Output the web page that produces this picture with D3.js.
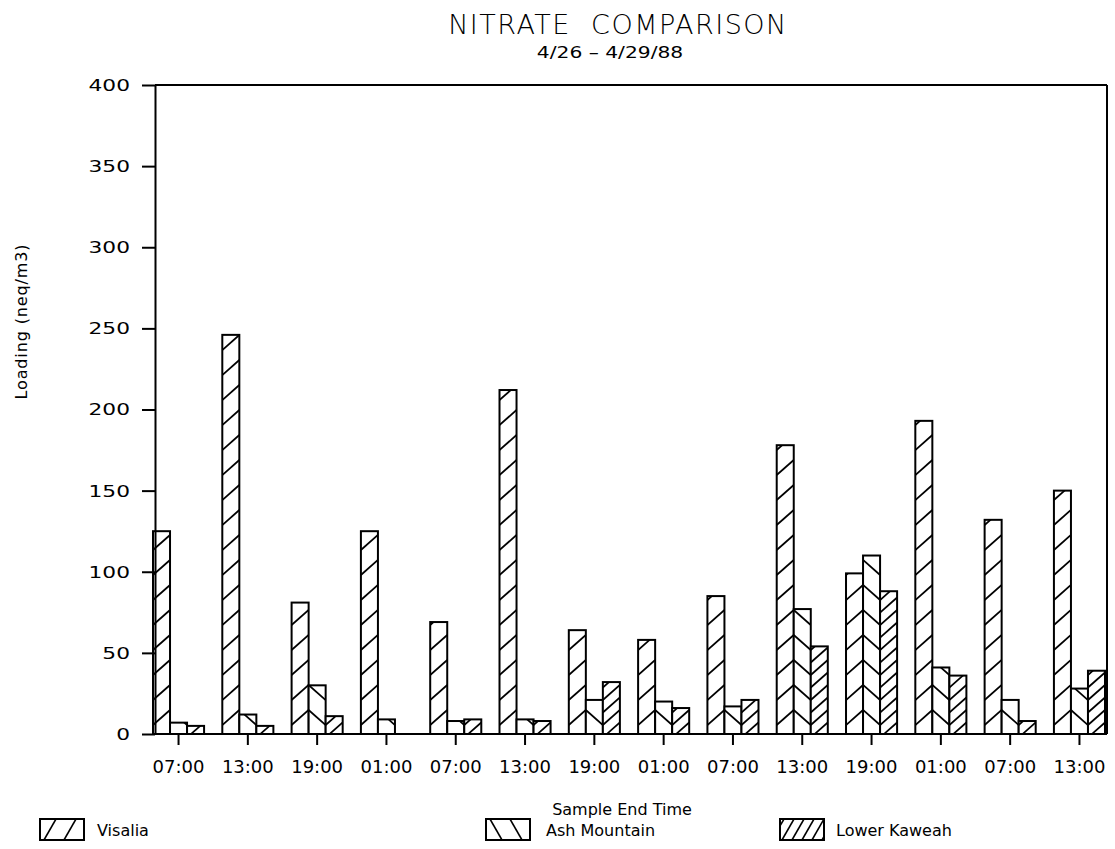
<!DOCTYPE html>
<html>
<head>
<meta charset="utf-8">
<script src="https://cdn.jsdelivr.net/npm/d3@7/dist/d3.min.js"></script>
<style>
  html, body { margin: 0; padding: 0; background: #fff; }
  svg { display: block; }
  text { font-family: "DejaVu Sans", sans-serif; fill: #000; }
</style>
</head>
<body>
<svg id="chart" width="1115" height="849"></svg>
<script>
// ---- data ----
const categories = ["07:00","13:00","19:00","01:00","07:00","13:00","19:00","01:00","07:00","13:00","19:00","01:00","07:00","13:00"];
const seriesNames = ["Visalia", "Ash Mountain", "Lower Kaweah"];
const visalia = [125, 246, 81, 125, 69, 212, 64, 58, 85, 178, 99, 193, 132, 150];
const ashMountain = [7, 12, 30, 9, 8, 9, 21, 20, 17, 77, 110, 41, 21, 28];
const lowerKaweah = [5, 5, 11, 0, 9, 8, 32, 16, 21, 54, 88, 36, 8, 39];
const yTicks = [0, 50, 100, 150, 200, 250, 300, 350, 400];

const title = "NITRATE  COMPARISON";
const subtitle = "4/26 \u2013 4/29/88";
const xLabel = "Sample End Time";
const yLabel = "Loading (neq/m3)";

// ---- layout ----
const svg = d3.select("#chart");
const plotLeft = 155, plotRight = 1107, plotTop = 85, plotBottom = 734;

const x = d3.scaleBand()
  .domain(d3.range(categories.length))
  .range([153, 1105])
  .paddingInner(0.263)
  .paddingOuter(0);
const xs = d3.scaleBand().domain([0, 1, 2]).range([0, x.bandwidth()]);
const y = d3.scaleLinear().domain([0, 400]).range([plotBottom, plotTop]);

svg.append("rect").attr("width", 1115).attr("height", 849).attr("fill", "#fff");

const defs = svg.append("defs");
const seriesData = [visalia, ashMountain, lowerKaweah];

// hatch geometry
const P = 25;     // vertical period of chevrons
const R = 15;     // rise across a bar
const base = y(0);

function hatchLines(s, x0, x1, top) {
  const lines = [];
  const nK = Math.ceil((base - top) / P) + 2;
  if (s === 0) {
    for (let k = -1; k < nK; k++) {
      const yr = base - 24 - P * k;
      lines.push([x0, yr + R, x1, yr]);
    }
  } else if (s === 1) {
    for (let k = -1; k < nK; k++) {
      const yl = base - 24 - P * k;
      lines.push([x0, yl, x1, yl + R]);
    }
  } else {
    for (let k = -2; k < nK * 2; k++) {
      const yl = base - 24 + R - (P / 2) * k;
      lines.push([x0, yl, x1, yl - R]);
    }
  }
  return lines;
}

const barsG = svg.append("g");
categories.forEach((c, i) => {
  seriesData.forEach((vals, s) => {
    const v = vals[i];
    if (!(v > 0)) return;
    const x0 = x(i) + xs(s);
    const w = xs.bandwidth();
    const top = y(v);
    const id = `clip-${i}-${s}`;
    defs.append("clipPath").attr("id", id)
      .append("rect").attr("x", x0).attr("y", top).attr("width", w).attr("height", base - top);
    const g = barsG.append("g");
    g.append("rect").attr("x", x0).attr("y", top).attr("width", w).attr("height", base - top)
      .attr("fill", "#fff");
    g.append("g").attr("clip-path", `url(#${id})`)
      .selectAll("line").data(hatchLines(s, x0, x0 + w, top)).join("line")
      .attr("x1", d => d[0]).attr("y1", d => d[1]).attr("x2", d => d[2]).attr("y2", d => d[3])
      .attr("stroke", "#000").attr("stroke-width", 1.7);
    g.append("rect").attr("x", x0).attr("y", top).attr("width", w).attr("height", base - top)
      .attr("fill", "none").attr("stroke", "#000").attr("stroke-width", 2);
  });
});

// frame
svg.append("line").attr("x1", plotLeft).attr("x2", plotRight).attr("y1", plotTop).attr("y2", plotTop)
  .attr("stroke", "#000").attr("stroke-width", 2);
svg.append("line").attr("x1", plotRight).attr("x2", plotRight).attr("y1", plotTop).attr("y2", plotBottom)
  .attr("stroke", "#000").attr("stroke-width", 2);
svg.append("line").attr("x1", plotLeft - 2).attr("x2", plotRight).attr("y1", plotBottom).attr("y2", plotBottom)
  .attr("stroke", "#000").attr("stroke-width", 2.2);

// y axis
const yAxis = svg.append("g").attr("transform", `translate(${plotLeft},0)`)
  .call(d3.axisLeft(y).tickValues(yTicks).tickSize(13).tickSizeOuter(0).tickFormat(d3.format("d")));
yAxis.select(".domain").attr("stroke-width", 2);
yAxis.selectAll(".tick line").attr("stroke-width", 2);
const sx = 1.45;
yAxis.selectAll(".tick text")
  .attr("font-size", 15).attr("font-family", "DejaVu Sans")
  .attr("x", -25 / sx).attr("dy", "0.36em")
  .attr("transform", `scale(${sx},1)`);

// x axis
const xAxis = svg.append("g").attr("transform", `translate(0,${plotBottom})`)
  .call(d3.axisBottom(x).tickSize(11).tickPadding(15).tickSizeOuter(0).tickFormat(i => categories[i]));
xAxis.select(".domain").remove();
xAxis.selectAll(".tick line").attr("stroke-width", 2);
xAxis.selectAll(".tick text").attr("font-size", 18).attr("font-family", "DejaVu Sans");

// titles
svg.append("text").attr("x", 618).attr("y", 34).attr("text-anchor", "middle")
  .attr("font-size", 27).attr("font-weight", 300).attr("letter-spacing", 1.5)
  .style("white-space", "pre").text(title);
svg.append("g").attr("transform", "translate(610,58) scale(1.35,1)")
  .append("text").attr("text-anchor", "middle").attr("font-size", 15).text(subtitle);
svg.append("text").attr("x", 622).attr("y", 815).attr("text-anchor", "middle")
  .attr("font-size", 16).text(xLabel);
svg.append("text").attr("transform", "translate(27,322) rotate(-90)").attr("text-anchor", "middle")
  .attr("font-size", 16).attr("textLength", 155).text(yLabel);

// legend
const legendX = [40, 486, 780];
const legendTextX = [97, 546, 836];
const bw = 44, bh = 21, by = 819;
seriesNames.forEach((name, s) => {
  const lx = legendX[s];
  const id = `lclip-${s}`;
  defs.append("clipPath").attr("id", id)
    .append("rect").attr("x", lx).attr("y", by).attr("width", bw).attr("height", bh);
  const lines = [];
  const run = 12;
  if (s === 0) {
    for (let k = -1; k < 4; k++) { const xb = lx + 4 + k * 20; lines.push([xb, by + bh, xb + run, by]); }
  } else if (s === 1) {
    for (let k = -1; k < 4; k++) { const xb = lx + 4 + k * 20; lines.push([xb, by, xb + run, by + bh]); }
  } else {
    for (let k = -1; k < 8; k++) { const xb = lx + 2 + k * 10; lines.push([xb, by + bh, xb + run, by]); }
  }
  svg.append("g").attr("clip-path", `url(#${id})`)
    .selectAll("line").data(lines).join("line")
    .attr("x1", d => d[0]).attr("y1", d => d[1]).attr("x2", d => d[2]).attr("y2", d => d[3])
    .attr("stroke", "#000").attr("stroke-width", 1.6);
  svg.append("rect").attr("x", lx).attr("y", by).attr("width", bw).attr("height", bh)
    .attr("fill", "none").attr("stroke", "#000").attr("stroke-width", 2);
  svg.append("text").attr("x", legendTextX[s]).attr("y", by + 17).attr("font-size", 16).text(name);
});
</script>
</body>
</html>
